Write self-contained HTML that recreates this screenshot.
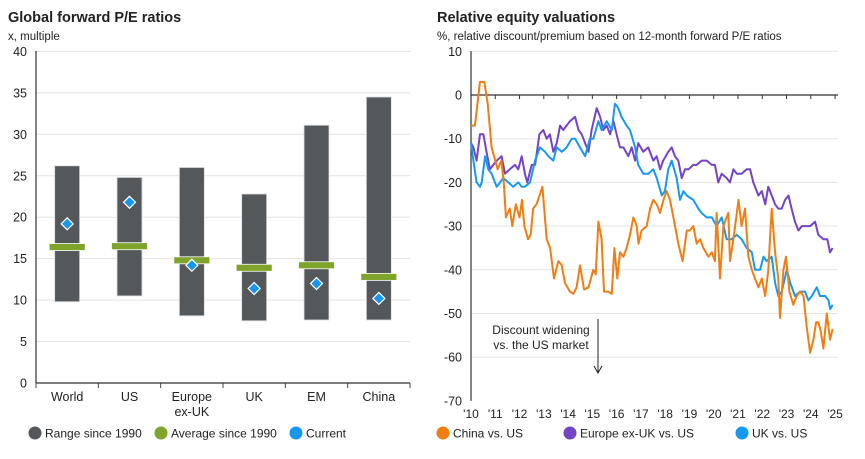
<!DOCTYPE html>
<html><head><meta charset="utf-8"><style>
body{margin:0;background:#fff;font-family:"Liberation Sans",sans-serif;}
svg text{font-family:"Liberation Sans",sans-serif;fill:#222;}
</style></head><body>
<svg id="c" width="865" height="454" xmlns="http://www.w3.org/2000/svg">
<text x="8" y="22" font-size="14.5" font-weight="bold">Global forward P/E ratios</text>
<text x="8" y="40" font-size="11.5">x, multiple</text>
<text x="437" y="22" font-size="14.5" font-weight="bold">Relative equity valuations</text>
<text x="437" y="40" font-size="11.5">%, relative discount/premium based on 12-month forward P/E ratios</text>
<g id="left"></g>
<g id="right"></g>
</svg>
<script>
// Left chart data
const categories = ["World","US","Europe|ex-UK","UK","EM","China"];
const rangeLow = [9.8,10.5,8.1,7.5,7.6,7.6];
const rangeHigh = [26.2,24.8,26.0,22.8,31.1,34.5];
const averages = [16.4,16.5,14.8,13.9,14.2,12.8];
const currents = [19.2,21.8,14.2,11.4,12.0,10.2];
const leftTicks = [0,5,10,15,20,25,30,35,40];

// Right chart data
const yearTicks = ["'10","'11","'12","'13","'14","'15","'16","'17","'18","'19","'20","'21","'22","'23","'24","'25"];
const rightTicks = [10,0,-10,-20,-30,-40,-50,-60,-70];
const chinaDates = [2010,2010.16,2010.37,2010.55,2010.69,2010.85,2011.1,2011.25,2011.35,2011.44,2011.6,2011.7,2011.85,2012,2012.1,2012.2,2012.35,2012.46,2012.56,2012.7,2012.94,2013.12,2013.26,2013.42,2013.6,2013.74,2013.87,2014.08,2014.22,2014.35,2014.49,2014.66,2014.84,2015.04,2015.14,2015.25,2015.38,2015.48,2015.66,2015.8,2015.91,2016.03,2016.14,2016.28,2016.41,2016.55,2016.69,2016.83,2016.9,2017.03,2017.24,2017.38,2017.51,2017.65,2017.79,2017.93,2018.06,2018.2,2018.34,2018.54,2018.72,2018.89,2019.02,2019.16,2019.3,2019.44,2019.57,2019.78,2019.92,2020.05,2020.12,2020.26,2020.4,2020.6,2020.67,2020.81,2020.95,2021.02,2021.15,2021.29,2021.43,2021.57,2021.7,2021.84,2021.98,2022.12,2022.25,2022.39,2022.53,2022.66,2022.73,2022.87,2022.98,2023.12,2023.28,2023.42,2023.56,2023.7,2023.83,2023.97,2024.11,2024.22,2024.31,2024.41,2024.52,2024.66,2024.79,2024.9];
const chinaValues = [-7,-7,3,3,-2,-12,-17,-15,-20,-28,-26,-30,-25,-28,-24,-30,-33,-32,-26,-25,-21,-33,-35,-42,-38,-39,-43,-45,-45.5,-44,-39,-44.5,-44,-40,-41,-29,-33,-45,-45,-45.5,-35,-42,-36,-37,-35,-32,-28,-30,-34,-31,-30,-26,-24,-25,-27,-24,-22,-24,-28,-34,-38,-31,-31,-30,-34,-33,-35,-37,-36,-38,-27,-42,-30,-27,-38,-33,-27,-24,-30,-26,-37,-40,-42,-44,-42,-46,-40,-26,-36,-42,-51,-40,-37,-45,-48,-46,-45,-46,-53,-59,-56,-52,-52,-54,-58,-50,-56,-53.5];
const europeDates = [2010,2010.1,2010.23,2010.37,2010.51,2010.64,2010.78,2010.92,2011.06,2011.26,2011.4,2011.6,2011.81,2011.95,2012.09,2012.22,2012.32,2012.5,2012.64,2012.82,2012.98,2013.12,2013.25,2013.39,2013.53,2013.67,2013.8,2013.94,2014.08,2014.29,2014.43,2014.56,2014.7,2014.84,2014.97,2015.18,2015.32,2015.45,2015.59,2015.73,2015.87,2016.0,2016.14,2016.28,2016.48,2016.62,2016.76,2016.89,2017.1,2017.3,2017.51,2017.65,2017.79,2017.92,2018.13,2018.27,2018.4,2018.54,2018.68,2018.82,2018.96,2019.16,2019.3,2019.5,2019.71,2019.92,2020.05,2020.19,2020.33,2020.53,2020.67,2020.81,2020.95,2021.15,2021.36,2021.5,2021.63,2021.84,2021.98,2022.12,2022.25,2022.39,2022.53,2022.66,2022.8,2022.94,2023.08,2023.21,2023.35,2023.49,2023.63,2023.76,2023.97,2024.18,2024.31,2024.52,2024.68,2024.79,2024.9];
const europeValues = [-11,-12,-15,-9,-9,-13,-17,-16,-15,-14,-18,-17,-16,-17,-14,-18,-20,-16,-16,-9,-8,-10,-9,-13,-11,-7,-8,-7,-6,-5,-8,-9,-11,-13,-8,-3,-5,-8,-7,-9,-6,-9,-12,-12,-14,-12,-15,-11,-13,-12,-15,-14,-17,-15,-13,-12,-14,-15,-19,-17,-17,-16,-16,-15,-15,-16,-16,-20,-18,-19,-20,-17,-18,-18,-17,-17,-20,-23,-22,-25,-21,-23,-25,-26,-26,-24,-23,-26,-29,-31,-30,-30,-30,-29,-32,-33,-33,-36,-35];
const ukDates = [2010,2010.1,2010.23,2010.37,2010.44,2010.58,2010.71,2010.85,2011.06,2011.2,2011.33,2011.54,2011.74,2011.95,2012.09,2012.22,2012.43,2012.64,2012.84,2013.05,2013.19,2013.39,2013.53,2013.74,2013.94,2014.15,2014.29,2014.49,2014.7,2014.9,2015.04,2015.25,2015.38,2015.59,2015.8,2015.93,2016.07,2016.2,2016.41,2016.55,2016.76,2016.89,2017.1,2017.31,2017.51,2017.65,2017.86,2017.99,2018.13,2018.27,2018.47,2018.61,2018.75,2018.89,2019.16,2019.37,2019.5,2019.71,2019.92,2020.12,2020.33,2020.53,2020.74,2020.95,2021.15,2021.36,2021.57,2021.7,2021.91,2022.05,2022.18,2022.39,2022.53,2022.66,2022.8,2023.01,2023.15,2023.35,2023.56,2023.76,2023.9,2024.04,2024.25,2024.38,2024.59,2024.73,2024.8,2024.9];
const ukValues = [-11,-15,-20,-21,-20,-14,-17,-18,-21,-20,-19,-20,-21,-20,-21,-21,-20,-15,-12,-13,-14,-15,-12,-13,-12,-10,-10,-12,-14,-10,-10,-6,-8,-6,-8,-2,-3,-5,-7,-8,-12,-16,-18,-18,-17,-19,-23,-22,-17,-15,-19,-24,-22,-23,-24,-26,-27,-28,-28,-30,-28,-33,-33,-32,-33,-35,-36,-40,-40,-37,-38,-37,-43,-46,-45,-40,-43,-46,-45,-45,-47,-46,-44,-46,-46,-47,-49,-48];

const NS = "http://www.w3.org/2000/svg";
function mk(parent, tag, attrs){const e=document.createElementNS(NS,tag);for(const k in attrs)e.setAttribute(k,attrs[k]);parent.appendChild(e);return e;}

// ----- Left chart -----
const L = document.getElementById('left');
const lx0=36, lx1=410, ly = v => 383 - v*8.29;
const bandW = (lx1-lx0)/categories.length;
const cx = i => lx0 + bandW*(i+0.5);
leftTicks.forEach(t=>{
  if(t>0){const g=mk(L,'line',{x1:lx0,x2:lx1,y1:ly(t),y2:ly(t),stroke:'#e3e3e3','stroke-width':1});
  
  }
  const tx=mk(L,'text',{x:27,y:ly(t)+4.5,'font-size':12.5,'text-anchor':'end'});tx.textContent=t;
  
  
});
categories.forEach((c,i)=>{
  const x=cx(i);
  const r=mk(L,'rect',{x:x-12.5,y:ly(rangeHigh[i]),width:25,height:ly(rangeLow[i])-ly(rangeHigh[i]),fill:'#54585b',stroke:'#e0e0e0','stroke-width':0.8});
  
  
  const a=mk(L,'rect',{x:x-18,y:ly(averages[i])-3.5,width:36,height:7,fill:'#7ea42b',stroke:'#fff','stroke-width':0.8});
  
  
  const y=ly(currents[i]);
  const d=mk(L,'polygon',{points:`${x},${y-6} ${x+6},${y} ${x},${y+6} ${x-6},${y}`,fill:'#1796ee',stroke:'#fff','stroke-width':1.2});
  
  
  c.split('|').forEach((ln,j)=>{const t=mk(L,'text',{x:x,y:401+j*15,'font-size':12.5,'text-anchor':'middle'});t.textContent=ln;
    
    });
});
for(let i=0;i<=categories.length;i++){const t=mk(L,'line',{x1:lx0+bandW*i,x2:lx0+bandW*i,y1:383,y2:388,stroke:'#444'});
  
  }
mk(L,'line',{x1:lx0,x2:lx0,y1:51,y2:383,stroke:'#333','stroke-width':1.2});
mk(L,'line',{x1:lx0,x2:lx1,y1:383,y2:383,stroke:'#333','stroke-width':1.2});
const legL=[['#54585b','Range since 1990',35],['#7ea42b','Average since 1990',161],['#1796ee','Current',296]];
legL.forEach(l=>{const g=mk(L,'g',{});
  
  
  mk(g,'circle',{cx:l[2],cy:433,r:6.5,fill:l[0]});
  const t=mk(g,'text',{x:l[2]+10,y:437.5,'font-size':12});t.textContent=l[1];});

// ----- Right chart -----
const R=document.getElementById('right');
const rx0=471, yearW=24.27, rx = yr => rx0 + (yr-2010)*yearW;
const ry = v => 95 - v*4.37;
rightTicks.forEach(t=>{
  if(t!==0 && t!==-70){const g=mk(R,'line',{x1:rx0,x2:838,y1:ry(t),y2:ry(t),stroke:'#e3e3e3'});
    
    }
  const tx=mk(R,'text',{x:462,y:ry(t)+4.5,'font-size':12.5,'text-anchor':'end'});tx.textContent=t;
  
  
});
mk(R,'line',{x1:rx0,x2:838,y1:ry(0),y2:ry(0),stroke:'#333','stroke-width':1.2});
yearTicks.forEach((yl,i)=>{
  const x=rx(2010+i);
  if(i>0){mk(R,'line',{x1:x,x2:x,y1:ry(0),y2:ry(0)+4,stroke:'#333'});}
  const t=mk(R,'text',{x:x,y:418,'font-size':12,'text-anchor':'middle'});t.textContent=yl;
  
  
});
mk(R,'line',{x1:rx0,x2:rx0,y1:51,y2:ry(-70),stroke:'#333','stroke-width':1.2});
function series(dates,vals,color,name){
  const p=mk(R,'polyline',{points:dates.map((d,i)=>rx(d).toFixed(1)+','+ry(vals[i]).toFixed(1)).join(' '),fill:'none',stroke:color,'stroke-width':2,'stroke-linejoin':'round'});
  
  
}
series(europeDates,europeValues,'#7444c4','europe-line');
series(ukDates,ukValues,'#1899f0','uk-line');
series(chinaDates,chinaValues,'#f07e12','china-line');
const n1=mk(R,'text',{x:541,y:334,'font-size':12,'text-anchor':'middle'});n1.textContent='Discount widening';


const n2=mk(R,'text',{x:541,y:349,'font-size':12,'text-anchor':'middle'});n2.textContent='vs. the US market';


mk(R,'line',{x1:598,x2:598,y1:319,y2:372,stroke:'#222'});
mk(R,'polyline',{points:'594,366 598,373 602,366',fill:'none',stroke:'#222'});
const legR=[['#f07e12','China vs. US',443],['#7444c4','Europe ex-UK vs. US',570],['#1899f0','UK vs. US',742]];
legR.forEach(l=>{const g=mk(R,'g',{});
  
  
  mk(g,'circle',{cx:l[2],cy:433,r:6.5,fill:l[0]});
  const t=mk(g,'text',{x:l[2]+10,y:437.5,'font-size':12});t.textContent=l[1];});
</script>
</body></html>
